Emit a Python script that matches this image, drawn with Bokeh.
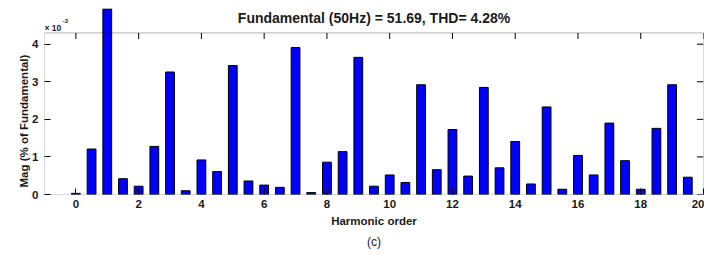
from bokeh.plotting import figure
from bokeh.models import Range1d, BoxAnnotation, Label, FixedTicker, Title
from bokeh.embed import file_html
from bokeh.resources import INLINE

# ---- data (magnitudes in units of 10^-3 % of fundamental) ----
harmonic_order = [0, 0.5, 1, 1.5, 2, 2.5, 3, 3.5, 4, 4.5,
                  5, 5.5, 6, 6.5, 7, 7.5, 8, 8.5, 9, 9.5,
                  10, 10.5, 11, 11.5, 12, 12.5, 13, 13.5, 14, 14.5,
                  15, 15.5, 16, 16.5, 17, 17.5, 18, 18.5, 19, 19.5]
mag_e3 = [0.03, 1.21, 4.94, 0.42, 0.22, 1.28, 3.26, 0.10, 0.92, 0.61,
          3.43, 0.36, 0.25, 0.19, 3.91, 0.05, 0.86, 1.14, 3.65, 0.22,
          0.52, 0.32, 2.92, 0.66, 1.73, 0.49, 2.85, 0.71, 1.41, 0.28,
          2.33, 0.14, 1.04, 0.52, 1.90, 0.90, 0.14, 1.76, 2.92, 0.46]
x_ticks = [0, 2, 4, 6, 8, 10, 12, 14, 16, 18, 20]
y_ticks = [0, 1, 2, 3, 4]
title_text = "Fundamental (50Hz) = 51.69, THD= 4.28%"
x_label = "Harmonic order"
y_label = "Mag (% of Fundamental)"
caption = "(c)"

X_MIN, X_MAX = -1, 20
Y_BOX_TOP = 4.3
Y_VIEW_TOP = 4.95

FONT = "Liberation Sans"
TXT = "#1a1a1a"

p = figure(width=704, height=255, output_backend="svg", toolbar_location=None,
           x_range=Range1d(X_MIN, X_MAX), y_range=Range1d(0, Y_VIEW_TOP),
           min_border_left=44, min_border_right=1, min_border_top=8,
           min_border_bottom=61)
p.outline_line_color = None
p.xgrid.grid_line_color = None
p.ygrid.grid_line_color = None
p.background_fill_color = "white"
p.border_fill_color = "white"

p.vbar(x=harmonic_order, top=mag_e3, width=0.28, bottom=0,
       fill_color="#0000ff", line_color="black", line_width=1)

# axes box
p.add_layout(BoxAnnotation(left=X_MIN, right=X_MAX, bottom=0, top=Y_BOX_TOP,
                           fill_color=None, fill_alpha=0, line_color="black",
                           line_width=1))

for ax in (p.xaxis[0], p.yaxis[0]):
    ax.axis_line_color = None
    ax.major_tick_in = 6
    ax.major_tick_out = 0
    ax.minor_tick_line_color = None
    ax.major_tick_line_color = "black"
    ax.major_label_text_font = FONT
    ax.major_label_text_font_style = "bold"
    ax.major_label_text_font_size = "11.5px"
    ax.major_label_text_color = TXT

p.xaxis.ticker = FixedTicker(ticks=x_ticks)
p.yaxis.ticker = FixedTicker(ticks=y_ticks)
p.xaxis.major_label_standoff = 5
p.yaxis.major_label_standoff = 6
p.xaxis.axis_label = x_label
p.xaxis.axis_label_text_font = FONT
p.xaxis.axis_label_text_font_style = "bold"
p.xaxis.axis_label_text_font_size = "11.5px"
p.xaxis.axis_label_text_color = TXT
p.xaxis.axis_label_standoff = 4

# y label (placed from the bottom of the box upward)
p.add_layout(Title(text=y_label, align="left", offset=7, text_font=FONT,
                   text_font_style="bold", text_font_size="11.5px",
                   text_color=TXT, standoff=0), "left")
# caption below
p.add_layout(Title(text=caption, align="center", text_font=FONT,
                   text_font_style="normal", text_font_size="12px",
                   text_color=TXT, standoff=6), "below")

# ticks on the top and right sides of the box
p.segment(x0=x_ticks, x1=x_ticks, y0=[Y_BOX_TOP] * len(x_ticks),
          y1=[Y_BOX_TOP - 0.16] * len(x_ticks), line_color="black", line_width=1)
p.segment(x0=[X_MAX] * len(y_ticks), x1=[X_MAX - 0.21] * len(y_ticks),
          y0=y_ticks, y1=y_ticks, line_color="black", line_width=1)

# texts inside the drawing area
p.add_layout(Label(x=(X_MIN + X_MAX) / 2, y=4.71, text=title_text,
                   text_align="center", text_baseline="middle",
                   text_font=FONT, text_font_style="bold",
                   text_font_size="14px", text_color=TXT))
p.add_layout(Label(x=-1.0, y=4.44, text="\u00d7 10", text_align="left",
                   text_baseline="alphabetic", text_font=FONT,
                   text_font_style="bold", text_font_size="8.5px", text_color=TXT))
p.add_layout(Label(x=-0.42, y=4.62, text="-3", text_align="left",
                   text_baseline="alphabetic", text_font=FONT,
                   text_font_style="bold", text_font_size="6px", text_color=TXT))

open("out.html", "w").write(file_html(p, INLINE))
